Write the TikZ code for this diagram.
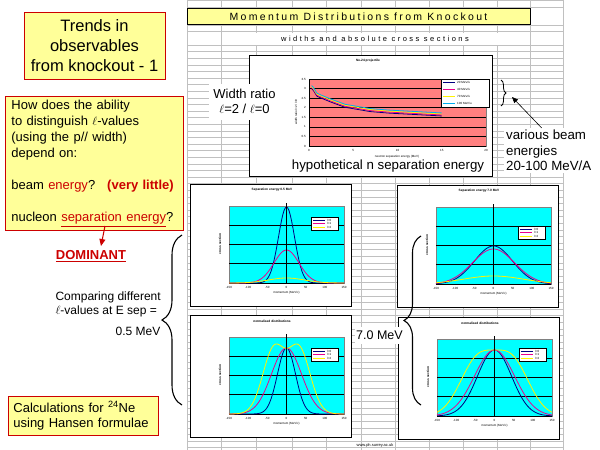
\documentclass[tikz,border=0pt]{standalone}
\usepackage{fontspec}
\setmainfont{Liberation Sans}
\newfontfamily\spacedhead[LetterSpace=22]{Liberation Sans}
\newfontfamily\spacedsub[LetterSpace=33]{Liberation Sans}
\usetikzlibrary{arrows.meta,decorations.pathreplacing}
\definecolor{noteyellow}{RGB}{255,255,153}
\definecolor{notered}{RGB}{204,0,0}
\definecolor{gridgray}{RGB}{192,192,192}
\definecolor{plotcyan}{RGB}{0,255,255}
\definecolor{plotsalmon}{RGB}{255,128,128}
\definecolor{curvenavy}{RGB}{0,0,128}
\tikzset{
	notebox/.style={draw=notered, fill=noteyellow, line width=0.8pt},
	minitext/.style={font=\fontsize{3}{3.5}\selectfont, inner sep=0pt},
	curve/.style={line width=0.8pt},
	profile/.style={line width=0.8pt, domain=-57.5:57.5, samples=91},
	bigbrace/.style={decorate, decoration={brace, amplitude=#1}, line width=1.1pt},
}
\newcommand{\smallchart}[5]{%
	\begin{scope}[shift={(#1,#2)}]
		\draw[fill=white, line width=0.8pt] (0,0) rectangle (161,122);
		\node[minitext, font=\fontsize{3.2}{4}\selectfont\bfseries] at (82,6) {#3};
		\draw[fill=plotcyan, draw=gray] (39,22) rectangle (154,99);
		\foreach \gy in {41.25,60.5,79.75,99}
			\draw[line width=0.7pt] (39,\gy) -- (154,\gy);
		\begin{scope}[shift={(96.5,99)}, y=1pt]
			#5
		\end{scope}
		\draw[line width=0.7pt] (96.5,19) -- (96.5,99);
		\foreach \tv [count=\k from 0] in {-150,-100,-50,0,50,100,150}
			\node[minitext] at ({39+\k*19.17},103) {\tv};
		\node[minitext] at (96.5,109) {momentum (MeV/c)};
		\node[minitext, rotate=90, font=\fontsize{3.2}{4}\selectfont\bfseries] at (30,60) {cross section};
		\begin{scope}[shift={(121,#4)}]
			\draw[fill=white, line width=0.6pt] (0,0) rectangle (27,13);
			\foreach \col/\lab [count=\k] in {curvenavy/l=0, magenta/l=1, yellow/l=2}
				{\draw[\col, curve] (2,{\k*3.5-0.5}) -- (14,{\k*3.5-0.5});
				\node[minitext, anchor=west] at (16,{\k*3.5-0.5}) {\lab};}
		\end{scope}
	\end{scope}}

\begin{document}
\begin{tikzpicture}[x=1pt, y=-1pt]
	\useasboundingbox (0,0) rectangle (600,450);
	\foreach \gy in {0,7.3,25,31,45,51.6,58.2,...,450}
		\draw[gridgray, line width=0.6pt] (187,\gy) -- (563,\gy);
	\foreach \gx in {187,221.5,256,292.5,326.5,361,395,429,463,497,530,563}
		\draw[gridgray, line width=0.6pt] (\gx,0) -- (\gx,450);

	\node[draw, fill=noteyellow, line width=0.8pt, minimum width=343pt, minimum height=15.6pt, inner sep=0pt, font=\spacedhead\fontsize{10.5}{12}\selectfont] (header) at (358.5,16.5) {Momentum Distributions from Knockout};
	\node[fill=white, minimum width=250pt, minimum height=12pt, inner sep=0pt, font=\spacedsub\fontsize{7.5}{9}\selectfont] (subhead) at (375,38.5) {widths and absolute cross sections};

	\draw[fill=white, line width=0.8pt] (249,55) rectangle (492,176);
	\node[minitext, font=\fontsize{3.2}{4}\selectfont\bfseries] (toptitle) at (368,61) {Ne-24 projectile};
	\draw[fill=plotsalmon, draw=gray] (309,79) rectangle (486,146);
	\foreach \k in {0,...,7}
		\draw[line width=0.7pt] (309,{79+\k*9.57}) -- (486,{79+\k*9.57});
	\draw[line width=0.7pt] (309,79) -- (309,146);
	\foreach \tv [count=\k from 0] in {3.5,3,2.5,2,1.5,1,0.5,0}
		\node[minitext, anchor=east] at (306,{79+\k*9.57}) {\tv};
	\foreach \tv [count=\k from 0] in {0,5,10,15,20}
		\node[minitext] at ({309+\k*44.25},150) {\tv};
	\node[minitext] (xlab) at (397,157) {neutron separation energy (MeV)};
	\node[minitext, rotate=90] (ylab) at (296,112) {width ratio l=2 / l=0};
	\begin{scope}[shift={(309,146)}, x=8.85pt, y=19.14pt]
		\foreach \col/\dy in {curvenavy/0pt, magenta/1pt, yellow/2pt, cyan/3pt}
			\draw[\col, curve, yshift=\dy, mark=square*, mark size=0.9pt] plot coordinates {(0.3,3.0) (0.5,2.9) (0.9,2.6) (1.5,2.48) (2.4,2.31) (3.2,2.17) (4.1,2.02) (5,1.95) (6.9,1.8) (9,1.72) (11,1.67) (13,1.62) (15,1.57)};
	\end{scope}
	\draw[fill=white, line width=0.6pt] (441,79) rectangle (489,107);
	\foreach \col/\lab [count=\k, evaluate=\k as \ly using 79+\k*7-3.5] in {curvenavy/20, magenta/40, yellow/70, cyan/100}
		{\draw[\col, curve, mark=square*, mark size=0.9pt, mark indices={2}] plot coordinates {(443,\ly) (449,\ly) (455,\ly)};
		\node[minitext, anchor=west] at (457,\ly) {\lab\ MeV/u};}

	\node[fill=white, align=center, inner sep=1pt, minimum width=71pt, minimum height=36pt, font=\fontsize{13}{15}\selectfont] (wratio) at (244.5,101.5) {Width ratio\\$\ell$=2 / $\ell$=0};
	\node[font=\fontsize{13.3}{15}\selectfont, inner sep=1pt] (hypo) at (388,166) {hypothetical n separation energy};
	\draw[bigbrace=5pt, line width=0.8pt] (501,80) -- (501,106);
	\coordinate (legtip) at (512,97);
	\node[fill=white, anchor=north west, align=left, inner sep=2pt, font=\fontsize{13.3}{15.5}\selectfont] (beams) at (504,128) {various beam\\energies\\20-100 MeV/A};
	\draw[-{Triangle[width=5pt,length=6pt]}, line width=0.6pt] ([xshift=-7pt]beams.north) -- (legtip);

	\smallchart{190}{184}{Separation energy 0.5 MeV}{33}{
		\draw[curvenavy, profile] plot (\x,{76*exp(-\x*\x/128)});
		\draw[magenta, profile] plot (\x,{33*exp(-\x*\x/312.5)});
		\draw[yellow, profile] plot (\x,{5*exp(-\x*\x/648)});}
	\smallchart{397}{185}{Separation energy 7.0 MeV}{41}{
		\draw[curvenavy, profile] plot (\x,{38*exp(-\x*\x/722)});
		\draw[magenta, profile] plot (\x,{35*exp(-\x*\x/882)});
		\draw[yellow, profile] plot (\x,{8*exp(-\x*\x/1800)});}
	\smallchart{190}{315}{normalised distributions}{33}{
		\draw[curvenavy, profile] plot (\x,{66*exp(-\x*\x/162)});
		\draw[magenta, profile] plot (\x,{66*exp(-\x*\x/450)});
		\draw[yellow, profile] plot (\x,{65.6*(1+\x*\x/212.5)*exp(-\x*\x/312.5)});}
	\smallchart{398}{317}{normalised distributions}{31}{
		\draw[curvenavy, profile] plot (\x,{66*exp(-\x*\x/578)});
		\draw[magenta, profile] plot (\x,{66*exp(-\x*\x/800)});
		\draw[yellow, profile] plot (\x,{66*(1+\x*\x/722)*exp(-\x*\x/722)});}
	\node[minitext, font=\fontsize{4}{5}\selectfont] (footer) at (375,445) {www.ph.surrey.ac.uk};

	\node[notebox, minimum width=141pt, minimum height=67pt, align=center, font=\fontsize{16.5}{20}\selectfont] (title) at (94.5,45.5) {Trends in\\observables\\from knockout - 1};
	\node[notebox, anchor=north west, minimum width=178pt, minimum height=134pt, text width=166pt, inner xsep=6pt, align=left, font=\fontsize{13}{16}\selectfont] (quest) at (5,96) {How does the ability\\to distinguish $\ell$-values\\(using the p// width)\\depend on:\\[16pt]beam \textcolor{notered}{energy}?\hspace{12pt}\textcolor{notered}{\textbf{(very little)}}\\[16pt]nucleon \textcolor{notered}{\underline{separation energy}}?};
	\coordinate (sepE) at (105,226);
	\coordinate (domtip) at (101,246);
	\node[font=\fontsize{13}{15}\selectfont\bfseries, text=notered] (dominant) at (91,256) {\underline{DOMINANT}};
	\draw[notered, line width=1pt, -{Triangle[width=6pt,length=7pt]}] (sepE) -- (domtip);
	\node[anchor=west, align=left, font=\fontsize{12}{14}\selectfont] (compare) at (52,304) {Comparing different\\$\ell$-values at E sep =};
	\node[font=\fontsize{12}{14}\selectfont] (sep05) at (138,331) {0.5 MeV};
	\draw[bigbrace=20pt] (182,405) -- (182,235);
	\node[notebox, anchor=north west, minimum width=150pt, minimum height=39pt, text width=140pt, inner xsep=5pt, align=left, font=\fontsize{13}{15.5}\selectfont] (calc) at (8,396) {Calculations for \textsuperscript{24}Ne\\using Hansen formulae};

	\node[fill=white, inner sep=1pt, minimum width=47pt, minimum height=17pt, font=\fontsize{12.5}{14}\selectfont] (sep70) at (379.5,335.5) {7.0 MeV};
	\draw[bigbrace=17pt] (421,405) -- (421,236);
\end{tikzpicture}
\end{document}
